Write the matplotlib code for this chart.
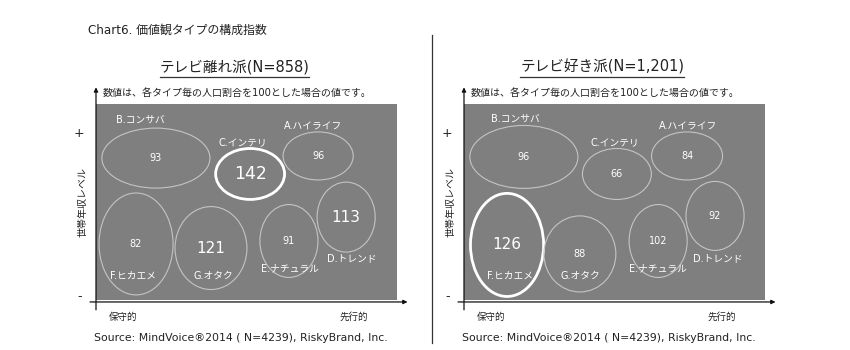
import matplotlib
matplotlib.use("Agg")
import matplotlib.pyplot as plt
from matplotlib.patches import Ellipse, Rectangle
from matplotlib.lines import Line2D

# 英数字は DejaVu Sans、日本語は Noto Sans CJK JP で描く
plt.rcParams['font.family'] = ['DejaVu Sans', 'Noto Sans CJK JP']

# 価値観タイプと構成指数（各タイプの人口割合=100）
types = ['A.ハイライフ', 'B.コンサバ', 'C.インテリ', 'D.トレンド', 'E.ナチュラル', 'F.ヒカエメ', 'G.オタク']
away_values = [96, 93, 142, 113, 91, 82, 121]     # テレビ離れ派
fan_values = [84, 96, 66, 92, 102, 126, 88]       # テレビ好き派

away_title = 'テレビ離れ派(N=858)'
fan_title = 'テレビ好き派(N=1,201)'
note = '数値は、各タイプ毎の人口割合を100とした場合の値です。'
source = 'Source: MindVoice®2014 ( N=4239), RiskyBrand, Inc.'

# マップ上の楕円の配置 (x, y, 幅, 高さ) と名称の位置  ※座標は 0-100
away_layout = [
    (73.8, 73.5, 23.3, 24.5), (19.9, 72.4, 35.9, 30.6), (51.2, 64.3, 22.9, 26.0),
    (83.1, 42.3, 19.3, 35.7), (64.1, 30.1, 19.3, 37.2), (13.3, 28.6, 24.6, 52.0),
    (38.2, 26.5, 23.9, 42.3),
]
away_names = [(72.1, 88.8), (14.6, 91.8), (48.8, 80.6), (85.0, 21.4),
              (64.5, 16.3), (12.3, 12.2), (38.9, 12.2)]
fan_layout = [
    (74.1, 73.5, 23.6, 24.5), (19.9, 73.0, 35.9, 32.1), (50.8, 64.3, 22.9, 26.0),
    (83.4, 42.9, 19.3, 35.2), (64.5, 30.1, 19.3, 37.2), (14.3, 28.1, 24.3, 52.6),
    (38.5, 23.5, 23.9, 38.8),
]
fan_names = [(74.4, 88.8), (17.0, 92.3), (50.2, 80.6), (84.4, 21.4),
             (64.5, 16.3), (15.3, 12.2), (38.5, 12.2)]

W, H = 850, 350
fig = plt.figure(figsize=(W / 100, H / 100), dpi=100)
fig.patch.set_facecolor('white')

fig.text(88 / W, 1 - 30 / H, 'Chart6. 価値観タイプの構成指数', fontsize=8.6,
         color='#222222', ha='left', va='center')
fig.add_artist(Line2D([432 / W, 432 / W], [1 - 35 / H, 1 - 343 / H],
                      color='#333333', lw=0.9))

titles = []


def draw_panel(left, values, layout, names, title):
    ax = fig.add_axes([left / W, 50 / H, 301 / W, 196 / H])
    ax.set_xlim(0, 100)
    ax.set_ylim(0, 100)
    ax.axis('off')
    ax.add_patch(Rectangle((0, 0), 100, 100, facecolor='#7f7f7f',
                           edgecolor='none', zorder=0))

    top = max(values)
    for name, v, (cx, cy, w, h), (nx, ny) in zip(types, values, layout, names):
        hi = v == top
        ax.add_patch(Ellipse((cx, cy), w, h, facecolor='none',
                             edgecolor='white' if hi else '#c4c4c4',
                             lw=2.0 if hi else 0.8, zorder=2))
        fs = 7 if v < 110 else (12.5 if v >= 140 else 11)
        ax.text(cx, cy, str(v), fontsize=fs, color='white',
                ha='center', va='center', zorder=3)
        ax.text(nx, ny, name, fontsize=7, color='white',
                ha='center', va='center', zorder=3)

    # 軸（矢印）
    ax.annotate('', xy=(1.035, -0.01), xytext=(-0.02, -0.01),
                xycoords='axes fraction', textcoords='axes fraction',
                arrowprops=dict(arrowstyle='-|>', color='#111111', lw=0.9,
                                mutation_scale=6, shrinkA=0, shrinkB=0))
    ax.annotate('', xy=(0, 1.085), xytext=(0, -0.05),
                xycoords='axes fraction', textcoords='axes fraction',
                arrowprops=dict(arrowstyle='-|>', color='#111111', lw=0.9,
                                mutation_scale=6, shrinkA=0, shrinkB=0))

    kw = dict(transform=ax.transAxes, color='#222222', ha='center', va='center')
    ax.text(-0.056, 0.852, '+', fontsize=9, **kw)
    ax.text(-0.056, 0.02, '-', fontsize=9, **kw)
    ax.text(-0.045, 0.5, '世帯年収レベル', fontsize=7.2, rotation=90, **kw)
    ax.text(0.09, -0.087, '保守的', fontsize=6.8, **kw)
    ax.text(0.855, -0.087, '先行的', fontsize=6.8, **kw)
    ax.text(0.48, -0.195, source, fontsize=7.8, **kw)
    ax.text(0.023, 1.055, note, fontsize=7.2, transform=ax.transAxes,
            color='#222222', ha='left', va='center')
    t = ax.text(0.46, 1.19, title, fontsize=10.5, **kw)
    titles.append(t)


draw_panel(96, away_values, away_layout, away_names, away_title)
draw_panel(464, fan_values, fan_layout, fan_names, fan_title)

# 見出しの下線
fig.canvas.draw()
renderer = fig.canvas.get_renderer()
for t in titles:
    bb = t.get_window_extent(renderer)
    y = (bb.y0 - 3) / H
    fig.add_artist(Line2D([bb.x0 / W, bb.x1 / W], [y, y], color='#333333', lw=0.9))

fig.savefig('out.png', dpi=100)
